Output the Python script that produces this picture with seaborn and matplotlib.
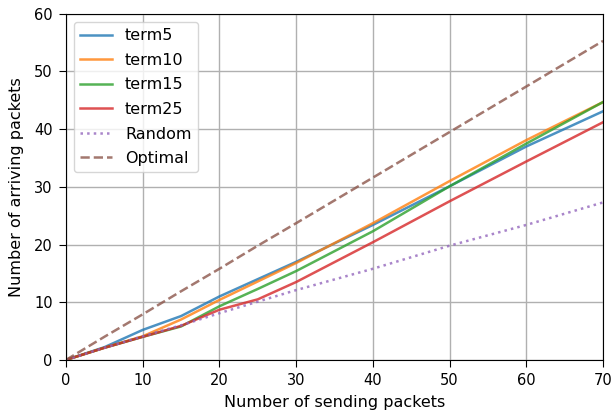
import matplotlib
matplotlib.use('Agg')
import matplotlib.pyplot as plt
import seaborn as sns
import pandas as pd

### DATA

# number of sending packets
sent = [0, 5, 10, 15, 20, 25, 30, 40, 50, 60, 70]

# number of arriving packets for each method
term5 = [0, 2.2, 5.2, 7.6, 11.0, 14.0, 17.0, 23.4, 30.1, 37.0, 43.1]
term10 = [0, 2.1, 4.1, 7.0, 10.4, 13.6, 16.8, 23.7, 31.0, 38.1, 44.7]
term15 = [0, 2.1, 4.0, 5.8, 9.3, 12.3, 15.4, 22.3, 30.1, 37.5, 44.7]
term25 = [0, 2.1, 4.0, 5.9, 8.7, 10.5, 13.5, 20.4, 27.5, 34.4, 41.2]
random_ = [0, 2.1, 4.1, 6.0, 8.1, 10.1, 12.1, 15.8, 19.8, 23.4, 27.3]
optimal = [0, 4.0, 7.9, 11.9, 15.8, 19.8, 23.7, 31.6, 39.5, 47.4, 55.3]

series = {
    'term5': term5,
    'term10': term10,
    'term15': term15,
    'term25': term25,
    'Random': random_,
    'Optimal': optimal,
}

# long form table for seaborn
rows = []
for name, vals in series.items():
    for x, y in zip(sent, vals):
        rows.append({'method': name, 'sent': x, 'arrived': y})
df = pd.DataFrame(rows)

### PLOT

fig = plt.figure(figsize=(6.11, 4.18), dpi=100)
ax = fig.add_axes([0.108, 0.139, 0.879, 0.828])

colors = ['tab:blue', 'tab:orange', 'tab:green', 'tab:red', 'tab:purple', 'tab:brown']
styles = ['-', '-', '-', '-', ':', '--']

for (name, col, ls) in zip(series.keys(), colors, styles):
    sns.lineplot(
        data=df[df['method'] == name],
        x='sent',
        y='arrived',
        color=col,
        linestyle=ls,
        linewidth=1.8,
        alpha=0.8,
        label=name,
        ax=ax,
    )

ax.set_xlim(0, 70)
ax.set_ylim(0, 60)
ax.grid(True, color='#b0b0b0', linewidth=1)
ax.set_axisbelow(True)
ax.tick_params(length=5, pad=4.5, labelsize=10.5)
ax.set_xlabel('Number of sending packets', fontsize=11.5, labelpad=5)
ax.set_ylabel('Number of arriving packets', fontsize=11.5, labelpad=7)
ax.legend(loc='upper left', fontsize=11.5, labelspacing=0.6)

plt.savefig('out.png', dpi=100)
